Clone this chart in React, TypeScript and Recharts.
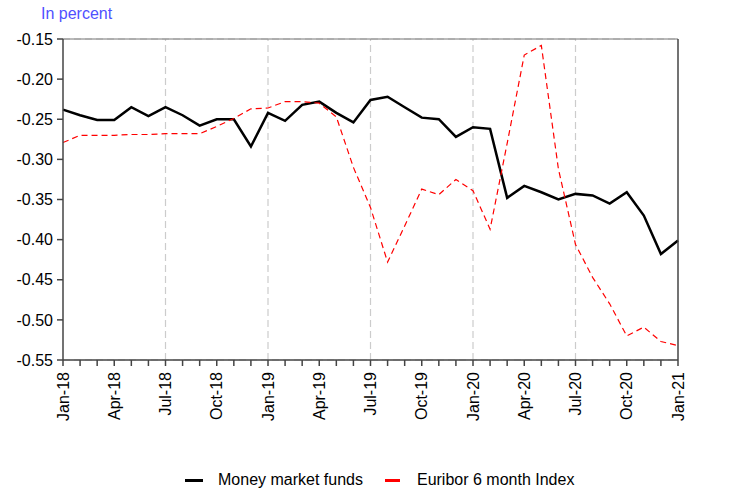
import React from "react";
import {
  CartesianGrid,
  Line,
  LineChart,
  ReferenceLine,
  XAxis,
  YAxis,
} from "recharts";

const months = [
  "Jan-18", "Feb-18", "Mar-18", "Apr-18", "May-18", "Jun-18", "Jul-18", "Aug-18", "Sep-18", "Oct-18", "Nov-18", "Dec-18",
  "Jan-19", "Feb-19", "Mar-19", "Apr-19", "May-19", "Jun-19", "Jul-19", "Aug-19", "Sep-19", "Oct-19", "Nov-19", "Dec-19",
  "Jan-20", "Feb-20", "Mar-20", "Apr-20", "May-20", "Jun-20", "Jul-20", "Aug-20", "Sep-20", "Oct-20", "Nov-20", "Dec-20",
  "Jan-21",
];

const moneyMarketFunds = [
  -0.238, -0.245, -0.251, -0.251, -0.235, -0.246, -0.235, -0.245, -0.258, -0.25, -0.25, -0.284,
  -0.242, -0.252, -0.232, -0.228, -0.242, -0.254, -0.226, -0.222, -0.235, -0.248, -0.25, -0.272,
  -0.26, -0.262, -0.348, -0.333, -0.341, -0.35, -0.343, -0.345, -0.355, -0.341, -0.37, -0.418,
  -0.401,
];

const euribor6m = [
  -0.279, -0.27, -0.27, -0.27, -0.269, -0.269, -0.268, -0.268, -0.268, -0.259, -0.249, -0.237,
  -0.236, -0.228, -0.228, -0.23, -0.247, -0.31, -0.36, -0.428, -0.383, -0.337, -0.344, -0.325,
  -0.339, -0.387, -0.28, -0.17, -0.158, -0.312, -0.406, -0.447, -0.48, -0.52, -0.509, -0.527,
  -0.532,
];

const yTicks = [-0.55, -0.5, -0.45, -0.4, -0.35, -0.3, -0.25, -0.2, -0.15];
const gridMonths = [6, 12, 18, 24, 30];

const data = months.map((m, i) => ({
  i,
  month: m,
  mmf: moneyMarketFunds[i],
  euribor: euribor6m[i],
}));

const font = "'Liberation Sans', Arial, sans-serif";

const XTick = (props: any) => {
  const { x, y, payload } = props;
  if (payload.value % 3 !== 0) return null;
  return (
    <text
      x={x}
      y={y}
      transform={`rotate(-90 ${x} ${y})`}
      textAnchor="end"
      dominantBaseline="central"
      fontSize={16}
      fontFamily={font}
      fill="#000"
    >
      {months[payload.value]}
    </text>
  );
};

export default function App() {
  return (
    <div style={{ position: "absolute", left: 0, top: 0, width: 737, height: 490, background: "#fff" }}>
      <div
        style={{
          position: "absolute",
          left: 41,
          top: 5,
          fontFamily: font,
          fontSize: 16,
          color: "#5050ff",
        }}
      >
        In percent
      </div>
      <LineChart
        width={737}
        height={490}
        data={data}
        margin={{ top: 39, right: 0, bottom: 0, left: 0 }}
      >
        <CartesianGrid vertical={false} stroke="#cccccc" strokeDasharray="7 4" strokeWidth={1.2} />
        {gridMonths.map((m) => (
          <ReferenceLine
            key={m}
            x={m}
            yAxisId="left"
            stroke="#cccccc"
            strokeDasharray="7 4"
            strokeWidth={1.2}
          />
        ))}
        <ReferenceLine y={-0.15} yAxisId="left" stroke="#777" strokeWidth={1} />
        <XAxis
          dataKey="i"
          type="number"
          domain={[0, 36]}
          ticks={months.map((_, i) => i)}
          interval={0}
          tick={<XTick />}
          tickSize={6}
          tickMargin={6}
          height={130}
          stroke="#444"
          strokeWidth={1.5}
          tickLine={{ stroke: "#444", strokeWidth: 1.5 }}
        />
        <YAxis
          yAxisId="left"
          domain={[-0.55, -0.15]}
          ticks={yTicks}
          interval={0}
          width={63}
          tickFormatter={(v: number) => v.toFixed(2)}
          tickSize={6}
          tickMargin={4}
          stroke="#444"
          strokeWidth={1.5}
          tick={{ fill: "#000", fontSize: 16, fontFamily: font }}
        />
        <YAxis
          yAxisId="right"
          orientation="right"
          domain={[-0.55, -0.15]}
          ticks={yTicks}
          interval={0}
          width={59}
          tickFormatter={(v: number) => v.toFixed(2)}
          tickSize={6}
          tickMargin={4}
          stroke="#444"
          strokeWidth={1.5}
          tick={{ fill: "#000", fontSize: 16, fontFamily: font }}
        />
        <Line
          yAxisId="left"
          type="linear"
          dataKey="mmf"
          name="Money market funds"
          stroke="#000"
          strokeWidth={2.5}
          dot={false}
          isAnimationActive={false}
        />
        <Line
          yAxisId="left"
          type="linear"
          dataKey="euribor"
          name="Euribor 6 month Index"
          stroke="#ff0000"
          strokeWidth={1.2}
          strokeDasharray="6 4"
          dot={false}
          isAnimationActive={false}
        />
      </LineChart>
      <div
        style={{
          position: "absolute",
          left: 185,
          top: 470,
          display: "flex",
          alignItems: "center",
          fontFamily: font,
          fontSize: 16,
          color: "#000",
          height: 20,
        }}
      >
        <span style={{ width: 18, height: 3, background: "#000", marginRight: 15 }} />
        <span style={{ marginRight: 22 }}>Money market funds</span>
        <span style={{ width: 15, height: 3, background: "#ff0000", marginRight: 17 }} />
        <span>Euribor 6 month Index</span>
      </div>
    </div>
  );
}
